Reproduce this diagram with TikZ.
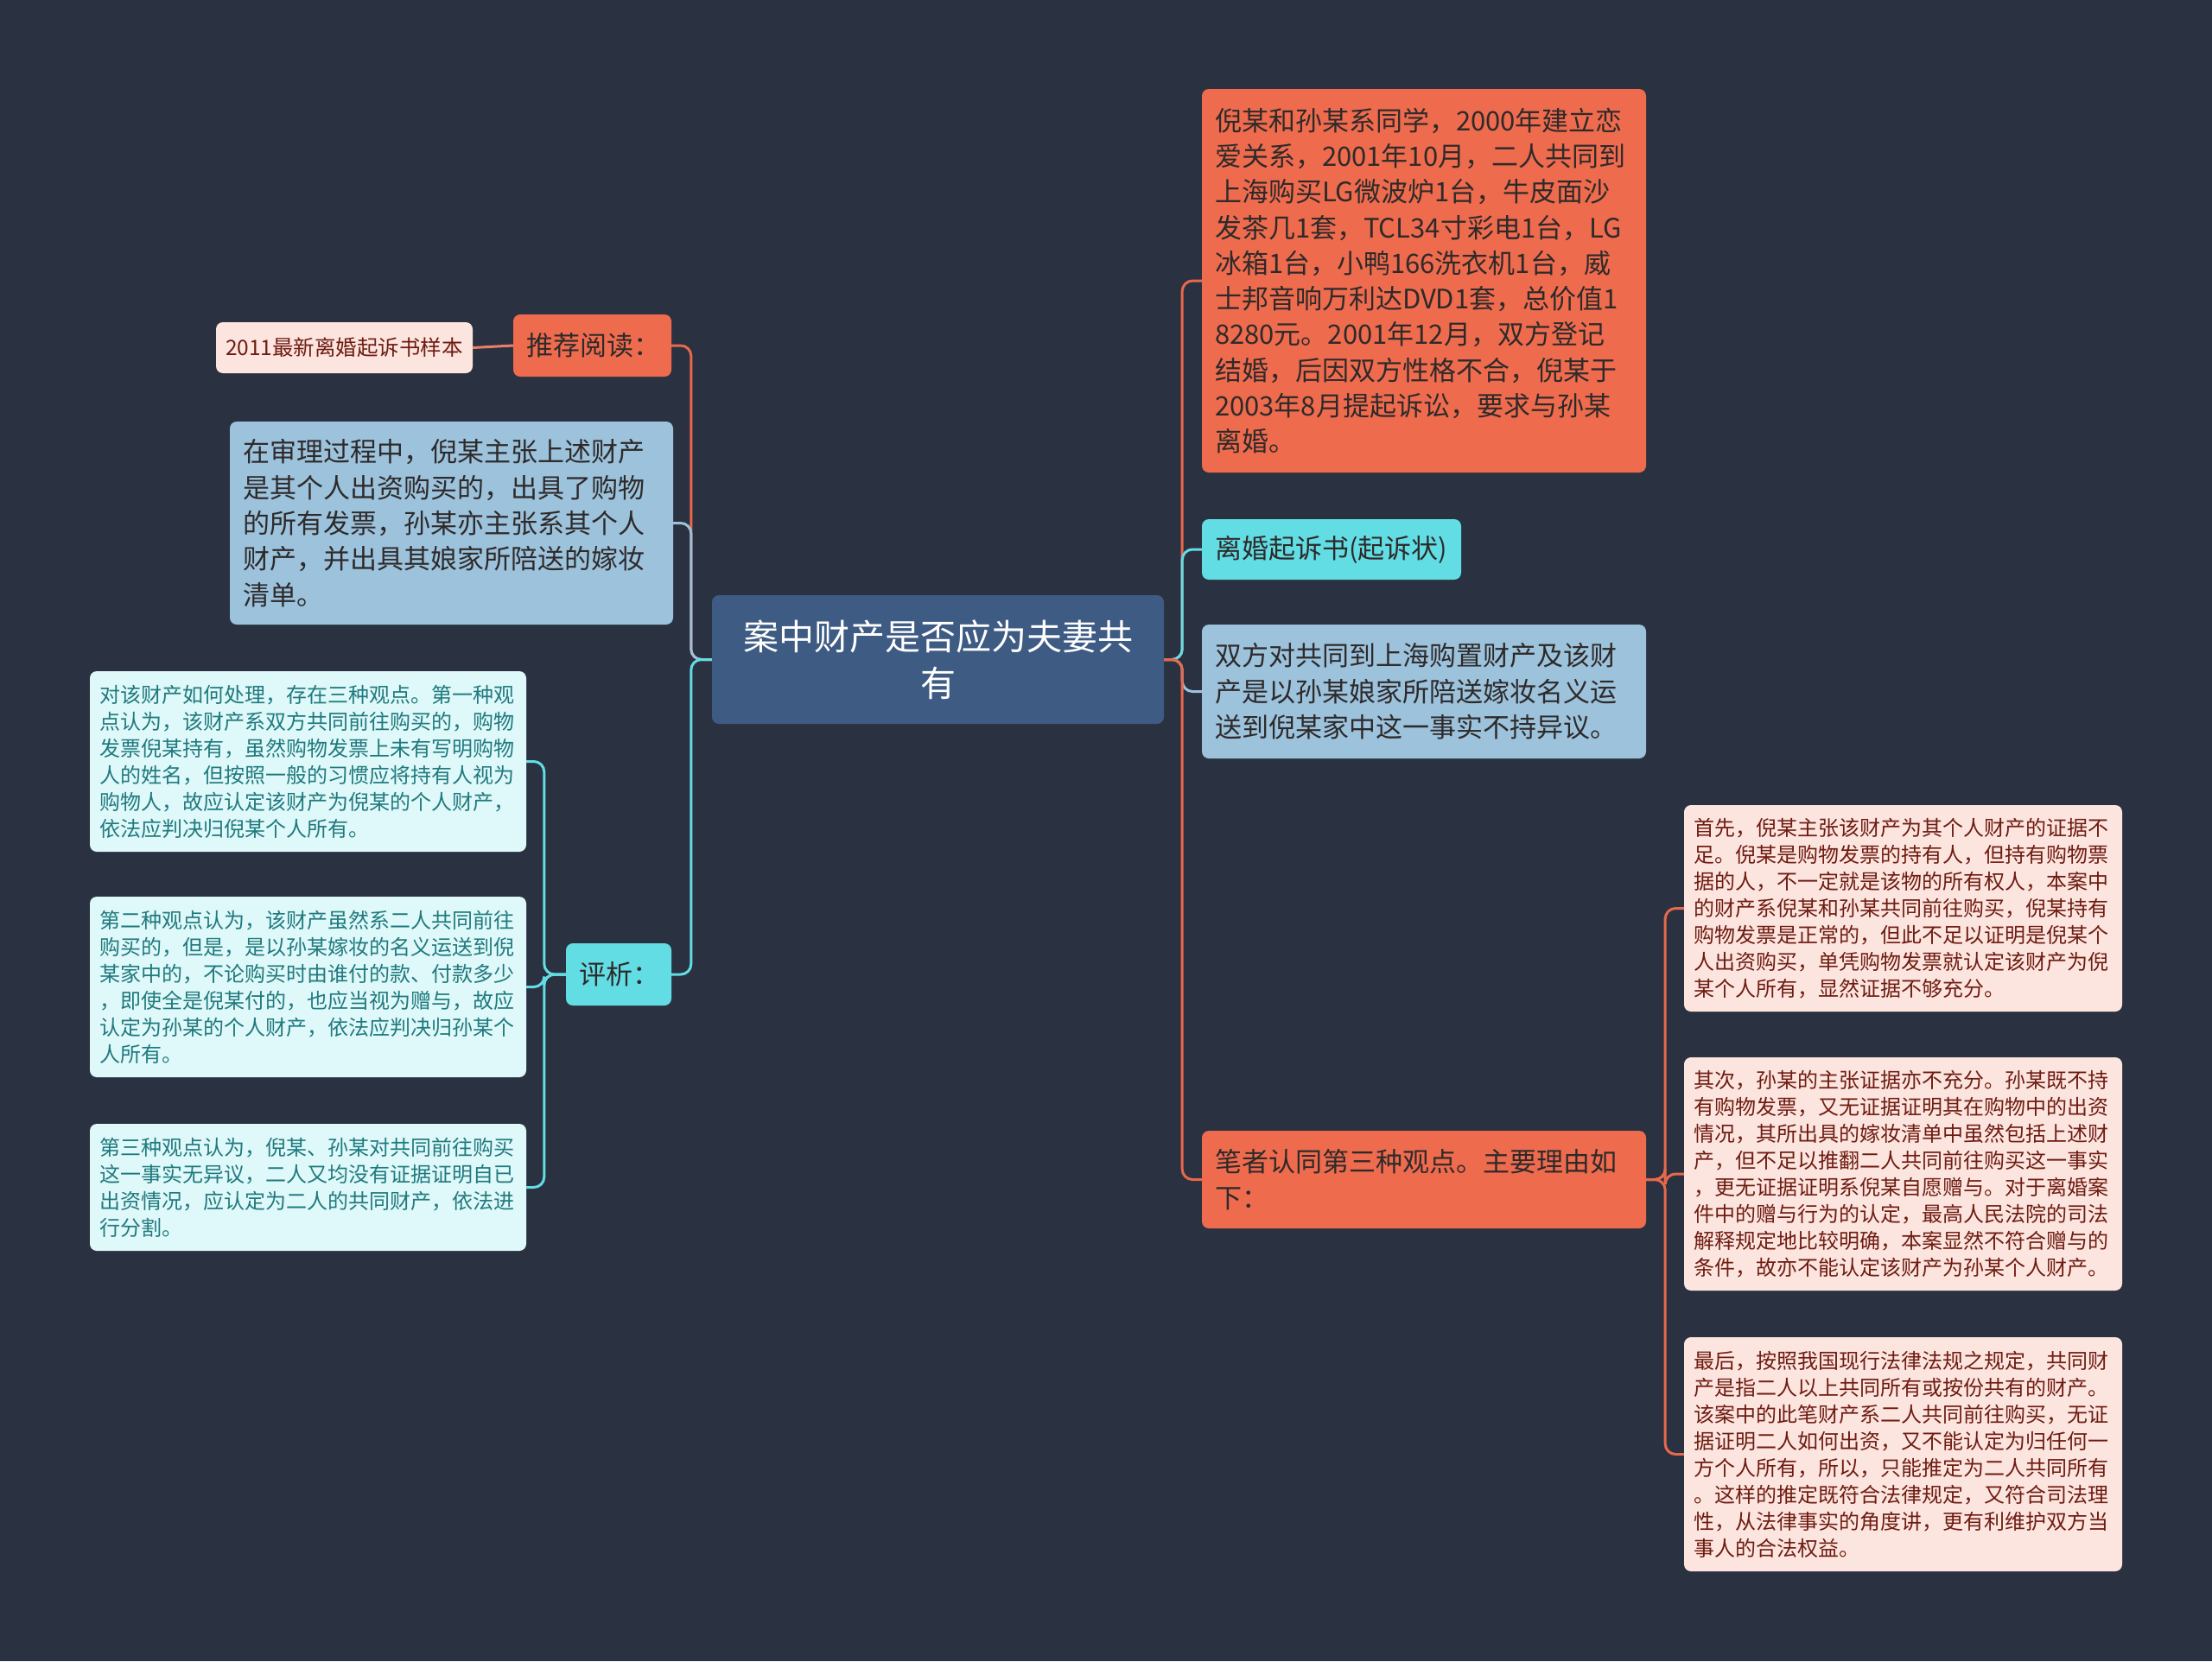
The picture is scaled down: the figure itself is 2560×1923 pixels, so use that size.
\documentclass[tikz,border=0pt]{standalone}
\usepackage{fontspec}
\setmainfont{Noto Sans CJK SC}
\definecolor{bg}{HTML}{2A3140}
\definecolor{rootc}{HTML}{3E5B83}
\definecolor{orangec}{HTML}{EE6B4E}
\definecolor{bluec}{HTML}{9CC2DC}
\definecolor{cyanc}{HTML}{62DDE3}
\definecolor{palecyan}{HTML}{DFF8F9}
\definecolor{palepink}{HTML}{FDE5DF}
\definecolor{darktext}{HTML}{2E2A2A}
\definecolor{tealtext}{HTML}{1F7A7E}
\definecolor{redtext}{HTML}{6E1C12}
\definecolor{orangeline}{HTML}{E8684C}
\tikzset{
  box/.style={rounded corners=8pt, inner xsep=15pt, inner ysep=0pt, align=left, anchor=center},
  big/.style={box, text=darktext, font=\fontsize{31}{41.3}\selectfont},
  small/.style={box, inner xsep=11pt, font=\fontsize{24}{31}\selectfont},
  rootbox/.style={box, fill=rootc, text=white, align=center, font=\fontsize{41}{54}\selectfont},
  conn/.style={line width=3pt, rounded corners=12pt},
}
\begin{document}
\begin{tikzpicture}[x=1pt,y=-1pt]
\fill[bg] (0,0) rectangle (2560,1923);
\useasboundingbox (0,0) rectangle (2560,1923);

% root
\node[rootbox, text width=493pt, minimum height=149pt] (root) at (1085.5,763.5) {案中财产是否应为夫妻共\\有};

% left side
\node[big, fill=orangec, text width=153pt, minimum height=72pt] (tj) at (685.5,400) {推荐阅读：};
\node[box, fill=palepink, text=redtext, font=\fontsize{24.5}{30}\selectfont, align=center, inner xsep=0pt, minimum width=297pt, minimum height=59pt] (yb) at (398.5,402.5) {2011最新离婚起诉书样本};
\node[big, fill=bluec, text width=483pt, minimum height=235pt] (sl) at (522.5,605.5) {在审理过程中，倪某主张上述财产\\是其个人出资购买的，出具了购物\\的所有发票，孙某亦主张系其个人\\财产，并出具其娘家所陪送的嫁妆\\清单。};
\node[big, fill=cyanc, text width=92pt, minimum height=72pt] (px) at (716,1128) {评析：};

\node[small, fill=palecyan, text=tealtext, text width=483pt, minimum height=209pt] (g1) at (356.5,881.5) {对该财产如何处理，存在三种观点。第一种观\\点认为，该财产系双方共同前往购买的，购物\\发票倪某持有，虽然购物发票上未有写明购物\\人的姓名，但按照一般的习惯应将持有人视为\\购物人，故应认定该财产为倪某的个人财产，\\依法应判决归倪某个人所有。};
\node[small, fill=palecyan, text=tealtext, text width=483pt, minimum height=209pt] (g2) at (356.5,1142.5) {第二种观点认为，该财产虽然系二人共同前往\\购买的，但是，是以孙某嫁妆的名义运送到倪\\某家中的，不论购买时由谁付的款、付款多少\\，即使全是倪某付的，也应当视为赠与，故应\\认定为孙某的个人财产，依法应判决归孙某个\\人所有。};
\node[small, fill=palecyan, text=tealtext, text width=483pt, minimum height=147pt] (g3) at (356.5,1374.5) {第三种观点认为，倪某、孙某对共同前往购买\\这一事实无异议，二人又均没有证据证明自已\\出资情况，应认定为二人的共同财产，依法进\\行分割。};

% right side
\node[big, fill=orangec, text width=484pt, minimum height=444pt] (nm) at (1648,325) {倪某和孙某系同学，2000年建立恋\\爱关系，2001年10月，二人共同到\\上海购买LG微波炉1台，牛皮面沙\\发茶几1套，TCL34寸彩电1台，LG\\冰箱1台，小鸭166洗衣机1台，威\\士邦音响万利达DVD1套，总价值1\\8280元。2001年12月，双方登记\\结婚，后因双方性格不合，倪某于\\2003年8月提起诉讼，要求与孙某\\离婚。};
\node[big, fill=cyanc, text width=270pt, minimum height=70pt] (qs) at (1541,636) {离婚起诉书(起诉状)};
\node[big, fill=bluec, text width=484pt, minimum height=155pt] (sf) at (1648,800.5) {双方对共同到上海购置财产及该财\\产是以孙某娘家所陪送嫁妆名义运\\送到倪某家中这一事实不持异议。};
\node[big, fill=orangec, text width=484pt, minimum height=113pt] (bz) at (1648,1365.5) {笔者认同第三种观点。主要理由如\\下：};

\node[small, fill=palepink, text=redtext, text width=485pt, minimum height=239pt] (r1) at (2202.5,1051.5) {首先，倪某主张该财产为其个人财产的证据不\\足。倪某是购物发票的持有人，但持有购物票\\据的人，不一定就是该物的所有权人，本案中\\的财产系倪某和孙某共同前往购买，倪某持有\\购物发票是正常的，但此不足以证明是倪某个\\人出资购买，单凭购物发票就认定该财产为倪\\某个人所有，显然证据不够充分。};
\node[small, fill=palepink, text=redtext, text width=485pt, minimum height=270pt] (r2) at (2202.5,1359) {其次，孙某的主张证据亦不充分。孙某既不持\\有购物发票，又无证据证明其在购物中的出资\\情况，其所出具的嫁妆清单中虽然包括上述财\\产，但不足以推翻二人共同前往购买这一事实\\，更无证据证明系倪某自愿赠与。对于离婚案\\件中的赠与行为的认定，最高人民法院的司法\\解释规定地比较明确，本案显然不符合赠与的\\条件，故亦不能认定该财产为孙某个人财产。};
\node[small, fill=palepink, text=redtext, text width=485pt, minimum height=271pt] (r3) at (2202.5,1683.5) {最后，按照我国现行法律法规之规定，共同财\\产是指二人以上共同所有或按份共有的财产。\\该案中的此笔财产系二人共同前往购买，无证\\据证明二人如何出资，又不能认定为归任何一\\方个人所有，所以，只能推定为二人共同所有\\。这样的推定既符合法律规定，又符合司法理\\性，从法律事实的角度讲，更有利维护双方当\\事人的合法权益。};

% connectors
\draw[conn, orangeline] (root.west) -- ++(-24,0) |- (tj.east);
\draw[conn, bluec] (root.west) -- ++(-24,0) |- (sl.east);
\draw[conn, cyanc] (root.west) -- ++(-24,0) |- (px.east);
\draw[line width=3pt, orangeline!85!white] (tj.west) -- (yb.east);
\draw[conn, cyanc] (px.west) -- ++(-25,0) |- (g1.east);
\draw[conn, cyanc] (px.west) -- ++(-25,0) |- (g2.east);
\draw[conn, cyanc] (px.west) -- ++(-25,0) |- (g3.east);

\draw[conn, orangeline] (root.east) -- ++(21,0) |- (nm.west);
\draw[conn, cyanc] (root.east) -- ++(21,0) |- (qs.west);
\draw[conn, bluec] (root.east) -- ++(21,0) |- (sf.west);
\draw[conn, orangeline] (root.east) -- ++(21,0) |- (bz.west);
\draw[conn, orangeline] (bz.east) -- ++(22,0) |- (r1.west);
\draw[conn, orangeline] (bz.east) -- ++(22,0) |- (r2.west);
\draw[conn, orangeline] (bz.east) -- ++(22,0) |- (r3.west);
\end{tikzpicture}
\end{document}
